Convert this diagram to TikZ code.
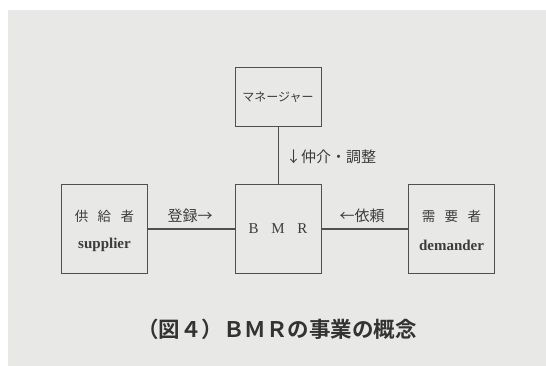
\documentclass[tikz,border=0pt]{standalone}
\usepackage{fontspec}
\setmainfont{Liberation Serif}
\newfontfamily\jp{Noto Sans CJK JP}
\newfontfamily\jpb{Noto Sans CJK JP Bold}
\definecolor{linecol}{HTML}{505050}
\definecolor{textcol}{HTML}{3C3C3C}
\definecolor{bgcol}{HTML}{E8E8E6}
\definecolor{capcol}{HTML}{333333}
\begin{document}
\begin{tikzpicture}[x=1pt,y=-1pt,
  box/.style={draw=linecol,line width=1pt,minimum width=86pt,minimum height=88pt,inner sep=0pt},
  conn/.style={draw=linecol,line width=1pt},
  lbl/.style={text=textcol,inner sep=0pt,font=\jp\fontsize{13.5}{15}\selectfont}]
\fill[white] (0,0) rectangle (546,366);
\fill[bgcol] (8,10) rectangle (546,366);
\useasboundingbox (0,0) rectangle (546,366);
\node[box,minimum height=59pt] (mgr) at (278,97.5) {};
\node[box] (bmr) at (278,229) {};
\node[box] (sup) at (104.5,229) {};
\node[box] (dem) at (451.5,229) {};
\draw[conn] (mgr.south) -- (bmr.north);
\draw[conn] (sup.east) -- (bmr.west);
\draw[conn] (bmr.east) -- (dem.west);
\node[lbl,font=\jp\fontsize{12}{14}\selectfont] (tmgr) at (mgr.center) {マネージャー};
\node[lbl,anchor=west,font=\jp\fontsize{15}{16}\selectfont] (tmed) at (286,157) {↓仲介・調整};
\node[lbl,font=\jp\fontsize{15}{16}\selectfont] (treg) at (190,216) {登録→};
\node[lbl,font=\jp\fontsize{15}{16}\selectfont] (treq) at (362,216) {←依頼};
\node[lbl,font=\fontsize{15}{16}\selectfont] (tbmr) at (bmr.center) {B\hspace{0.85em}M\hspace{0.85em}R};
\node[lbl] (tsup1) at (104.5,216) {供\hspace{0.7em}給\hspace{0.7em}者};
\node[lbl,font=\bfseries\fontsize{15}{16}\selectfont] (tsup2) at (104.5,245) {supplier};
\node[lbl] (tdem1) at (451.5,216) {需\hspace{0.7em}要\hspace{0.7em}者};
\node[lbl,font=\bfseries\fontsize{15}{16}\selectfont] (tdem2) at (451.5,245) {demander};
\node[lbl,text=capcol,font=\jpb\fontsize{21.5}{23}\selectfont] (cap) at (277,329) {（図４）ＢＭＲの事業の概念};
\end{tikzpicture}
\end{document}
